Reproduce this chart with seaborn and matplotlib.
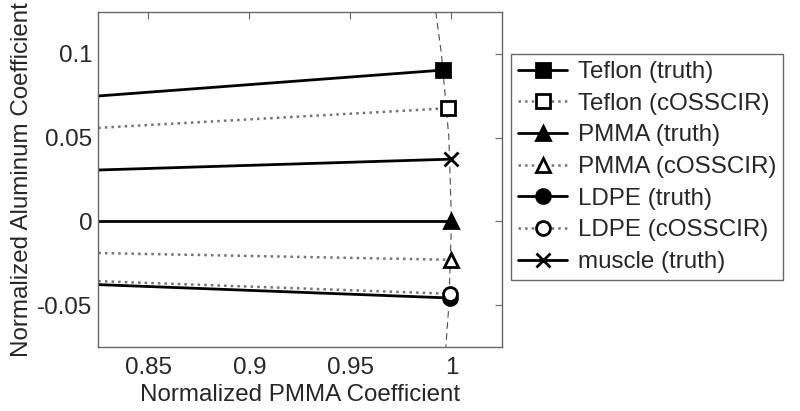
import matplotlib
matplotlib.use("Agg")
import matplotlib.pyplot as plt
import seaborn as sns

# marker positions (normalized PMMA, normalized aluminum); lines run from the origin
labels = ["Teflon (truth)", "Teflon (cOSSCIR)", "PMMA (truth)", "PMMA (cOSSCIR)",
          "LDPE (truth)", "LDPE (cOSSCIR)", "muscle (truth)"]
pmma = [0.996, 0.9985, 1.0, 1.0, 0.9992, 0.9992, 1.0]
alum = [0.0903, 0.0675, 0.0, -0.0230, -0.0458, -0.0433, 0.0371]
markers = ["s", "s", "^", "^", "o", "o", "x"]
truth = [True, False, True, False, True, False, True]

# dashed arc through the markers
arc_x = [0.9922, 0.9950, 0.9987, 1.0, 0.9987, 0.9972]
arc_y = [0.125, 0.100, 0.050, 0.0, -0.050, -0.075]

sns.set_theme(style="white")
plt.rcParams["font.family"] = ["Liberation Sans", "DejaVu Sans"]
FS = 17.4

fig = plt.figure(figsize=(8, 4.11), dpi=100)
ax = fig.add_axes([0.1225, 0.156, 0.505, 0.815])

sns.lineplot(x=arc_x, y=arc_y, ax=ax, color="0.3", lw=0.8, linestyle=(0, (6, 4)),
             sort=False, estimator=None)

for lab, px, al, mk, tr in zip(labels, pmma, alum, markers, truth):
    sns.lineplot(x=[0, px], y=[0, al], ax=ax, label=lab, sort=False, estimator=None,
                 color="black" if tr else "0.45",
                 linestyle="-" if tr else ":",
                 lw=2.0 if tr else 1.8,
                 marker=mk, markersize=10,
                 markerfacecolor="black" if tr else "white",
                 markeredgecolor="black", markeredgewidth=2.0)

ax.set_xlim(0.825, 1.025)
ax.set_ylim(-0.075, 0.125)
ax.set_xticks([0.85, 0.9, 0.95, 1])
ax.set_xticklabels(["0.85", "0.9", "0.95", "1"])
ax.set_yticks([-0.05, 0, 0.05, 0.1])
ax.set_yticklabels(["-0.05", "0", "0.05", "0.1"])
ax.tick_params(direction="in", top=True, right=True, length=5, width=0.8,
               color="0.4", labelsize=FS)
ax.tick_params(axis="x", pad=7)
ax.tick_params(axis="y", pad=4)
for s in ax.spines.values():
    s.set_color("0.4")
    s.set_linewidth(1.0)
ax.set_xlabel("Normalized PMMA Coefficient", fontsize=FS, labelpad=4)
ax.set_ylabel("Normalized Aluminum Coefficient", fontsize=FS, labelpad=3)

leg = ax.legend(loc="upper left", bbox_to_anchor=(0.639, 0.869),
                bbox_transform=fig.transFigure, fontsize=FS, numpoints=1,
                handlelength=2.0, handletextpad=0.45, labelspacing=0.4,
                borderpad=0.3, borderaxespad=0, fancybox=False, framealpha=1)
leg.get_frame().set_edgecolor("0.4")
leg.get_frame().set_linewidth(1.0)

fig.savefig("out.png", dpi=100)
